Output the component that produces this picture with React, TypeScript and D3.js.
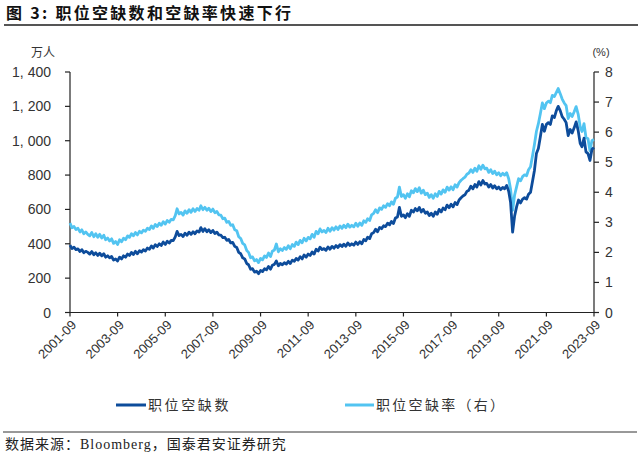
import React from "react";
import * as d3 from "d3";

// Monthly data, 2001-09 .. 2023-09
const startYear = 2001;
const startMonth = 9;

// 职位空缺数 (万人)
const openings: number[] = [
  // 2001 Sep-Dec
  392, 372, 380, 366,
  // 2002
  370, 355, 366, 348, 356, 350, 340, 355, 336, 348, 332, 345,
  // 2003
  330, 342, 322, 330, 318, 326, 305, 312, 300, 322, 312, 330,
  // 2004
  322, 340, 332, 350, 338, 356, 342, 360, 352, 366, 358, 375,
  // 2005
  368, 388, 375, 395, 384, 400, 390, 410, 396, 415, 404, 420,
  // 2006
  418, 440, 472, 448, 455, 442, 462, 450, 468, 455, 470, 458,
  // 2007
  475, 468, 494, 472, 488, 470, 482, 465, 478, 460, 468, 452,
  // 2008
  450, 436, 438, 420, 425, 405, 408, 385, 378, 350, 342, 318,
  // 2009
  312, 285, 278, 252, 255, 235, 240, 226, 245, 238, 255, 248,
  // 2010
  268, 252, 275, 280, 300, 272, 285, 278, 290, 282, 298, 285,
  // 2011
  305, 298, 315, 305, 325, 312, 335, 322, 340, 332, 352, 340,
  // 2012
  368, 358, 380, 366, 372, 362, 382, 368, 385, 374, 390, 378,
  // 2013
  395, 384, 398, 386, 405, 390, 400, 392, 410, 396, 412, 400,
  // 2014
  425, 418, 438, 430, 458, 465, 485, 470, 495, 488, 505, 500,
  // 2015
  520, 510, 530, 518, 550, 556, 612, 560, 568, 552, 575, 560,
  // 2016
  595, 585, 605, 592, 612, 585, 600, 578, 585, 565, 578, 560,
  // 2017
  585, 572, 600, 585, 608, 598, 625, 610, 630, 615, 640, 628,
  // 2018
  655, 668, 678, 685, 705, 712, 735, 720, 745, 730, 762, 742,
  // 2019
  768, 748, 752, 730, 745, 725, 738, 720, 730, 715, 728, 720,
  // 2020
  740, 705, 640, 468, 560, 615, 655, 638, 660, 668, 660, 688,
  // 2021
  700, 765, 825, 925, 955, 1025, 1095, 1055, 1095, 1105, 1095, 1145,
  // 2022
  1135, 1175, 1200, 1175, 1140, 1125, 1105, 1030, 1065, 1045, 1075, 1110,
  // 2023 Jan-Sep
  1060, 985, 965, 1015, 935, 925, 885, 950, 960,
];

// 职位空缺率 (%)
const rates: number[] = [
  // 2001 Sep-Dec
  2.98, 2.82, 2.86, 2.76,
  // 2002
  2.8, 2.68, 2.75, 2.62, 2.68, 2.6, 2.55, 2.66, 2.52, 2.62, 2.5, 2.6,
  // 2003
  2.48, 2.57, 2.42, 2.48, 2.38, 2.45, 2.3, 2.36, 2.26, 2.42, 2.35, 2.47,
  // 2004
  2.42, 2.55, 2.5, 2.62, 2.55, 2.66, 2.58, 2.7, 2.65, 2.74, 2.7, 2.8,
  // 2005
  2.76, 2.88, 2.8, 2.93, 2.86, 2.97, 2.9, 3.02, 2.94, 3.06, 3.0, 3.1,
  // 2006
  3.08, 3.22, 3.45, 3.28, 3.33, 3.24, 3.38, 3.3, 3.42, 3.33, 3.45, 3.36,
  // 2007
  3.46, 3.4, 3.55, 3.42, 3.5, 3.4, 3.47, 3.36, 3.44, 3.32, 3.36, 3.25,
  // 2008
  3.24, 3.12, 3.14, 3.0, 3.03, 2.9, 2.92, 2.75, 2.72, 2.52, 2.46, 2.3,
  // 2009
  2.25, 2.06, 2.0, 1.82, 1.85, 1.72, 1.76, 1.66, 1.8, 1.75, 1.88, 1.83,
  // 2010
  1.98, 1.86, 2.04, 2.08, 2.28, 2.02, 2.12, 2.06, 2.16, 2.1, 2.22, 2.12,
  // 2011
  2.26, 2.2, 2.34, 2.26, 2.4, 2.32, 2.47, 2.38, 2.5, 2.45, 2.6, 2.5,
  // 2012
  2.7, 2.62, 2.78, 2.68, 2.73, 2.66, 2.8, 2.7, 2.82, 2.74, 2.85, 2.76,
  // 2013
  2.88, 2.8, 2.9, 2.82, 2.94, 2.84, 2.9, 2.85, 2.97, 2.87, 2.98, 2.9,
  // 2014
  3.05, 3.0, 3.12, 3.06, 3.25, 3.3, 3.42, 3.32, 3.48, 3.43, 3.55, 3.5,
  // 2015
  3.62, 3.55, 3.68, 3.6, 3.8, 3.84, 4.17, 3.86, 3.92, 3.8, 3.95, 3.85,
  // 2016
  4.05, 3.98, 4.12, 4.02, 4.15, 3.97, 4.07, 3.92, 3.97, 3.83, 3.92, 3.8,
  // 2017
  3.95, 3.86, 4.03, 3.94, 4.08, 4.0, 4.17, 4.07, 4.18, 4.08, 4.25, 4.17,
  // 2018
  4.32, 4.4, 4.45, 4.5, 4.6, 4.64, 4.75, 4.66, 4.8, 4.7, 4.88, 4.76,
  // 2019
  4.9, 4.78, 4.8, 4.66, 4.75, 4.62, 4.7, 4.58, 4.65, 4.55, 4.63, 4.57,
  // 2020
  4.65, 4.45, 4.1, 3.4, 3.9, 4.18, 4.45, 4.38, 4.52, 4.58, 4.55, 4.75,
  // 2021
  4.85, 5.22, 5.58, 6.02, 6.28, 6.62, 6.97, 6.78, 6.97, 7.03, 6.98, 7.22,
  // 2022
  7.18, 7.32, 7.45, 7.28, 7.1, 6.97, 6.88, 6.45, 6.62, 6.52, 6.68, 6.85,
  // 2023 Jan-Sep
  6.6, 6.18, 6.02, 6.28, 5.82, 5.78, 5.38, 5.72, 5.75,
];

const leftTicks = [0, 200, 400, 600, 800, 1000, 1200, 1400];
const rightTicks = [0, 1, 2, 3, 4, 5, 6, 7, 8];
const xTickYears = [2001, 2003, 2005, 2007, 2009, 2011, 2013, 2015, 2017, 2019, 2021, 2023];

const title = "图 3:  职位空缺数和空缺率快速下行";
const leftUnit = "万人";
const rightUnit = "(%)";
const seriesNames = ["职位空缺数", "职位空缺率（右）"];
const source = "数据来源：Bloomberg，国泰君安证券研究";

const DARK = "#0d4c9b";
const LIGHT = "#52c4f1";

export default function App() {
  const W = 640;
  const H = 454;
  const left = 70;
  const right = 594;
  const top = 72;
  const bottom = 312.5;

  const dates = openings.map((_, i) => new Date(startYear, startMonth - 1 + i, 1));
  const x = d3
    .scaleTime()
    .domain([dates[0], dates[dates.length - 1]])
    .range([left, right]);
  const yL = d3.scaleLinear().domain([0, 1400]).range([bottom, top]);
  const yR = d3.scaleLinear().domain([0, 8]).range([bottom, top]);

  const lineL = d3
    .line<number>()
    .x((_, i) => x(dates[i]))
    .y((d) => yL(d));
  const lineR = d3
    .line<number>()
    .x((_, i) => x(dates[i]))
    .y((d) => yR(d));

  const fmtX = d3.timeFormat("%Y-%m");
  const fmtL = (v: number) => d3.format(",")(v).replace(",", ", ");

  const axisFont = "Liberation Sans, Arial, sans-serif";
  const cjk = "'Noto Sans CJK SC', sans-serif";

  return (
    <svg width={W} height={H} style={{ display: "block", position: "absolute", left: 0, top: 0 }}>
      <rect width={W} height={H} fill="#fff" />
      {/* Title */}
      <text x={6} y={19} fontFamily={cjk} fontWeight={700} fontSize={16} letterSpacing={2.3} fill="#111">
        {title}
      </text>
      <line x1={4} x2={638} y1={25} y2={25} stroke="#555" strokeWidth={2} />

      {/* units */}
      <text x={43} y={57} textAnchor="middle" fontFamily={cjk} fontSize={12} fill="#333">
        {leftUnit}
      </text>
      <text x={601} y={56} textAnchor="middle" fontFamily={axisFont} fontSize={11} fill="#333">
        {rightUnit}
      </text>

      {/* Left axis */}
      <line x1={left} x2={left} y1={top} y2={bottom} stroke="#222" strokeWidth={1.2} />
      {leftTicks.map((t) => (
        <g key={"l" + t}>
          <line x1={left - 5} x2={left} y1={yL(t)} y2={yL(t)} stroke="#222" strokeWidth={1.2} />
          <text x={51} y={yL(t)} dy="0.36em" textAnchor="end" fontFamily={axisFont} fontSize={14} fill="#333">
            {fmtL(t)}
          </text>
        </g>
      ))}

      {/* Right axis */}
      <line x1={right} x2={right} y1={top} y2={bottom} stroke="#222" strokeWidth={1.2} />
      {rightTicks.map((t) => (
        <g key={"r" + t}>
          <line x1={right} x2={right + 5} y1={yR(t)} y2={yR(t)} stroke="#222" strokeWidth={1.2} />
          <text x={605} y={yR(t)} dy="0.36em" textAnchor="start" fontFamily={axisFont} fontSize={14} fill="#333">
            {t}
          </text>
        </g>
      ))}

      {/* Bottom axis */}
      <line x1={left} x2={right} y1={bottom} y2={bottom} stroke="#222" strokeWidth={1.2} />
      {xTickYears.map((yr) => {
        const d = new Date(yr, 8, 1);
        const px = x(d);
        return (
          <g key={"x" + yr}>
            <line x1={px} x2={px} y1={bottom} y2={bottom + 4} stroke="#222" strokeWidth={1.2} />
            <text
              transform={`translate(${px + 4},${bottom + 10}) rotate(-45)`}
              textAnchor="end"
              dy="0.35em"
              fontFamily={axisFont}
              fontSize={13}
              fill="#333"
            >
              {fmtX(d)}
            </text>
          </g>
        );
      })}

      {/* Lines */}
      <path d={lineR(rates) || ""} fill="none" stroke={LIGHT} strokeWidth={2.8} strokeLinejoin="round" />
      <path d={lineL(openings) || ""} fill="none" stroke={DARK} strokeWidth={2.8} strokeLinejoin="round" />

      {/* Legend */}
      <line x1={116} x2={146} y1={405} y2={405} stroke={DARK} strokeWidth={3} />
      <text x={148} y={405} dy="0.36em" fontFamily={cjk} fontSize={14} letterSpacing={2.6} fill="#333">
        {seriesNames[0]}
      </text>
      <line x1={345} x2={374} y1={405} y2={405} stroke={LIGHT} strokeWidth={3} />
      <text x={376} y={405} dy="0.36em" fontFamily={cjk} fontSize={14} letterSpacing={2.3} fill="#333">
        {seriesNames[1]}
      </text>

      {/* Source */}
      <line x1={3} x2={637} y1={432} y2={432} stroke="#333" strokeWidth={1} />
      <text x={5} y={449} fontFamily={"'Liberation Serif', 'Noto Sans CJK SC', serif"} fontSize={14} letterSpacing={1} fill="#222">
        {source}
      </text>
    </svg>
  );
}
